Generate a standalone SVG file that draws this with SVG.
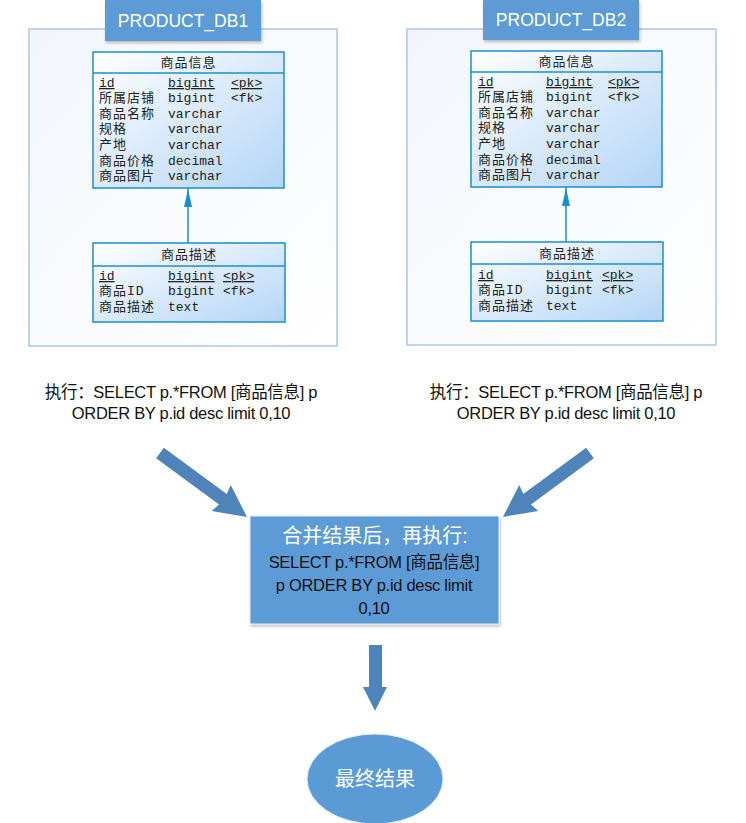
<svg xmlns="http://www.w3.org/2000/svg" width="746" height="823" viewBox="0 0 746 823">
<defs>
  <linearGradient id="gCont" x1="0" y1="0" x2="1" y2="1">
    <stop offset="0" stop-color="#f2f6fb"/>
    <stop offset="1" stop-color="#ffffff"/>
  </linearGradient>
  <linearGradient id="gTable" x1="0" y1="0" x2="1" y2="1">
    <stop offset="0" stop-color="#ffffff"/>
    <stop offset="1" stop-color="#b4d5f6"/>
  </linearGradient>
  <filter id="shadow" x="-10%" y="-10%" width="125%" height="130%">
    <feDropShadow dx="1" dy="2" stdDeviation="1.5" flood-color="#000" flood-opacity="0.25"/>
  </filter>
</defs>
<style>
  .cont{fill:url(#gCont);stroke:#a9c8e8;stroke-width:1.5}
  .title{fill:#5b9bd5;filter:url(#shadow)}
  .titleTxt{font-family:"Liberation Sans","Noto Sans",sans-serif;font-size:17.5px;fill:#ffffff;text-anchor:middle}
  .tbl{fill:url(#gTable);stroke:#1a8fd0;stroke-width:1.5}
  .sep{stroke:#1a8fd0;stroke-width:1.5}
  .hdr{font-family:"Liberation Mono","Noto Sans CJK SC",monospace;font-size:13px;fill:#222;text-anchor:middle;letter-spacing:1px}
  .row{font-family:"Liberation Mono","Noto Sans CJK SC",monospace;font-size:13px;fill:#222}
  .cjk{letter-spacing:1px}
  .u{text-decoration:underline}
  .conn{stroke:#1a8fd0;stroke-width:1.5;fill:none}
  .head{fill:#1a8fd0}
  .sql{font-family:"Liberation Sans","Noto Sans CJK SC",sans-serif;font-size:16.5px;fill:#111;text-anchor:middle;letter-spacing:-0.3px}
  .bigArrow{fill:#4f84bb}
  .box{fill:#5b9bd5;stroke:#e8eef6;stroke-width:1;filter:url(#shadow)}
  .boxTitle{font-family:"Liberation Sans","Noto Sans CJK SC",sans-serif;font-size:20px;fill:#ffffff;text-anchor:middle}
  .boxTxt{font-family:"Liberation Sans","Noto Sans CJK SC",sans-serif;font-size:16.5px;fill:#111;text-anchor:middle;letter-spacing:-0.3px}
  .ell{fill:#5b9bd5;stroke:#e8eef6;stroke-width:1}
  .ellTxt{font-family:"Liberation Sans","Noto Sans CJK SC",sans-serif;font-size:20px;fill:#ffffff;text-anchor:middle}
</style>

<!-- DB1 -->
<g id="db1">
  <rect class="cont" x="29" y="29" width="308" height="317"/>
  <rect class="title" x="105" y="0" width="156" height="41"/>
  <text class="titleTxt" x="183" y="27">PRODUCT_DB1</text>
</g>
<g id="db1-product">
  <rect class="tbl" x="93" y="52" width="191" height="136"/>
  <line class="sep" x1="93" y1="73" x2="284" y2="73"/>
  <text class="hdr" x="188.5" y="67">商品信息</text>
  <text class="row u" x="99" y="87">id</text>
  <text class="row u" x="168" y="87">bigint</text>
  <text class="row u" x="231" y="87">&lt;pk&gt;</text>
  <text class="row cjk" x="99" y="102">所属店铺</text><text class="row" x="168" y="102">bigint</text><text class="row" x="231" y="102">&lt;fk&gt;</text>
  <text class="row cjk" x="99" y="118">商品名称</text><text class="row" x="168" y="118">varchar</text>
  <text class="row cjk" x="99" y="133">规格</text><text class="row" x="168" y="133">varchar</text>
  <text class="row cjk" x="99" y="149">产地</text><text class="row" x="168" y="149">varchar</text>
  <text class="row cjk" x="99" y="165">商品价格</text><text class="row" x="168" y="165">decimal</text>
  <text class="row cjk" x="99" y="180">商品图片</text><text class="row" x="168" y="180">varchar</text>
</g>
<g id="db1-desc">
  <rect class="tbl" x="93" y="243" width="192" height="79"/>
  <line class="sep" x1="93" y1="266" x2="285" y2="266"/>
  <text class="hdr" x="189" y="259">商品描述</text>
  <text class="row u" x="99" y="280">id</text>
  <text class="row u" x="168" y="280">bigint</text>
  <text class="row u" x="223" y="280">&lt;pk&gt;</text>
  <text class="row cjk" x="99" y="295">商品ID</text><text class="row" x="168" y="295">bigint</text><text class="row" x="223" y="295">&lt;fk&gt;</text>
  <text class="row cjk" x="99" y="311">商品描述</text><text class="row" x="168" y="311">text</text>
</g>

<!-- DB2 -->
<g id="db2">
  <rect class="cont" x="407" y="29" width="309" height="316"/>
  <rect class="title" x="483" y="0" width="156" height="40"/>
  <text class="titleTxt" x="561" y="26">PRODUCT_DB2</text>
</g>
<g id="db2-product">
  <rect class="tbl" x="471" y="51" width="191" height="136"/>
  <line class="sep" x1="471" y1="72" x2="662" y2="72"/>
  <text class="hdr" x="566.5" y="66">商品信息</text>
  <text class="row u" x="478" y="86">id</text>
  <text class="row u" x="546" y="86">bigint</text>
  <text class="row u" x="608" y="86">&lt;pk&gt;</text>
  <text class="row cjk" x="478" y="101">所属店铺</text><text class="row" x="546" y="101">bigint</text><text class="row" x="608" y="101">&lt;fk&gt;</text>
  <text class="row cjk" x="478" y="117">商品名称</text><text class="row" x="546" y="117">varchar</text>
  <text class="row cjk" x="478" y="132">规格</text><text class="row" x="546" y="132">varchar</text>
  <text class="row cjk" x="478" y="148">产地</text><text class="row" x="546" y="148">varchar</text>
  <text class="row cjk" x="478" y="164">商品价格</text><text class="row" x="546" y="164">decimal</text>
  <text class="row cjk" x="478" y="179">商品图片</text><text class="row" x="546" y="179">varchar</text>
</g>
<g id="db2-desc">
  <rect class="tbl" x="471" y="242" width="192" height="79"/>
  <line class="sep" x1="471" y1="264" x2="663" y2="264"/>
  <text class="hdr" x="567" y="258">商品描述</text>
  <text class="row u" x="478" y="279">id</text>
  <text class="row u" x="546" y="279">bigint</text>
  <text class="row u" x="602" y="279">&lt;pk&gt;</text>
  <text class="row cjk" x="478" y="294">商品ID</text><text class="row" x="546" y="294">bigint</text><text class="row" x="602" y="294">&lt;fk&gt;</text>
  <text class="row cjk" x="478" y="310">商品描述</text><text class="row" x="546" y="310">text</text>
</g>

<!-- SQL texts -->
<g id="sql1">
  <text class="sql" x="181" y="398">执行：SELECT p.*FROM [商品信息] p</text>
  <text class="sql" x="181" y="419">ORDER BY p.id desc limit 0,10</text>
</g>
<g id="sql2">
  <text class="sql" x="566" y="398">执行：SELECT p.*FROM [商品信息] p</text>
  <text class="sql" x="566" y="419">ORDER BY p.id desc limit 0,10</text>
</g>

<!-- merge box -->
<g id="merge">
  <rect class="box" x="250" y="516" width="249" height="108"/>
  <text class="boxTitle" x="375" y="543">合并结果后，再执行:</text>
  <text class="boxTxt" x="374" y="568">SELECT p.*FROM [商品信息]</text>
  <text class="boxTxt" x="374" y="591">p ORDER BY p.id desc limit</text>
  <text class="boxTxt" x="374" y="614">0,10</text>
</g>

<!-- final -->
<g id="final">
  <ellipse class="ell" cx="375" cy="779" rx="68" ry="45"/>
  <text class="ellTxt" x="375" y="786">最终结果</text>
</g>

<!-- connectors -->
<g id="connectors">
  <line class="conn" x1="188" y1="243" x2="188" y2="188"/>
  <path class="head" d="M188,189 L184,207 L192,207 Z"/>
  <line class="conn" x1="566" y1="242" x2="566" y2="187"/>
  <path class="head" d="M566,188 L562,206 L570,206 Z"/>
  <path class="bigArrow" transform="translate(160,453) rotate(36.3)" d="M0,-6.5 L78,-6.5 L76,-16 L108,0 L76,16 L78,6.5 L0,6.5 Z"/>
  <path class="bigArrow" transform="translate(590,453) rotate(143.7)" d="M0,-6.5 L78,-6.5 L76,-16 L108,0 L76,16 L78,6.5 L0,6.5 Z"/>
  <path class="bigArrow" d="M369,645 L382,645 L382,687 L387,687 L375,711 L363,687 L369,687 Z"/>
</g>
</svg>
